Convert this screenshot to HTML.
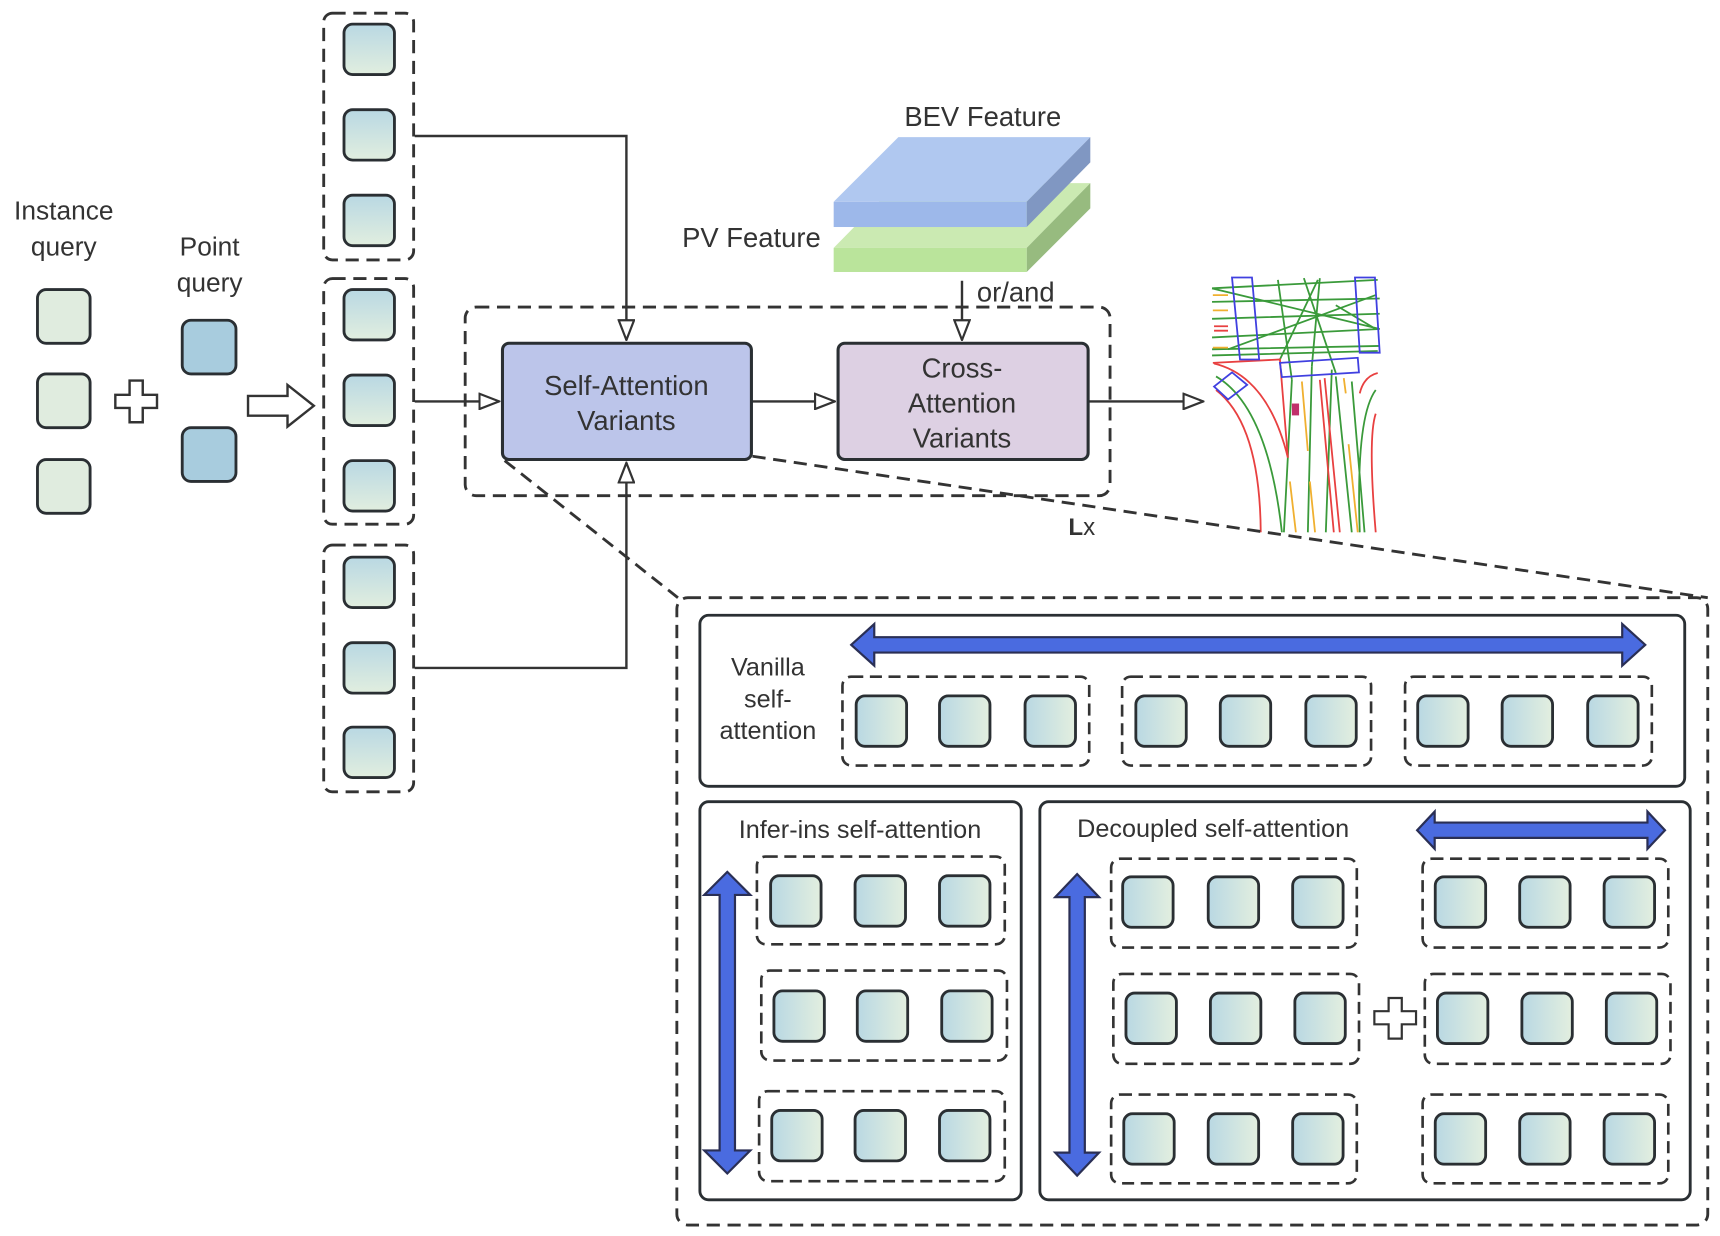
<!DOCTYPE html>
<html><head><meta charset="utf-8"><style>html,body{margin:0;padding:0;background:#fff}svg{display:block}</style></head>
<body>
<svg width="1720" height="1236" viewBox="0 0 1568 1127" xmlns="http://www.w3.org/2000/svg" font-family="'Liberation Sans', 'DejaVu Sans', sans-serif" fill="#222">
<defs>
<linearGradient id="gv" x1="0" y1="0" x2="0" y2="1"><stop offset="0" stop-color="#b9d8e3"/><stop offset="1" stop-color="#e1eedf"/></linearGradient>
<linearGradient id="gh" x1="0" y1="0" x2="1" y2="0"><stop offset="0" stop-color="#b9d8e3"/><stop offset="1" stop-color="#e3efdf"/></linearGradient>
<marker id="ah" viewBox="0 0 20 16" refX="19" refY="8" markerWidth="20" markerHeight="16" markerUnits="userSpaceOnUse" orient="auto"><path d="M1,1 L19,8 L1,15 Z" fill="#fff" stroke="#333" stroke-width="2"/></marker>
<symbol id="sv" viewBox="0 0 49 49"><rect x="1.5" y="1.5" width="46" height="46" rx="8" fill="url(#gv)" stroke="#2a2f33" stroke-width="2.6"/></symbol>
<symbol id="sh" viewBox="0 0 49 49"><rect x="1.5" y="1.5" width="46" height="46" rx="8" fill="url(#gh)" stroke="#2a2f33" stroke-width="2.6"/></symbol>
</defs>

<!-- left queries -->
<g font-size="24" text-anchor="middle" fill="#333">
<text x="58" y="200">Instance</text><text x="58" y="233">query</text>
<text x="191" y="233">Point</text><text x="191" y="266">query</text>
</g>
<g stroke="#2a2f33" stroke-width="2.6">
<rect x="34" y="264" width="48" height="49" rx="8" fill="#e0ecdf"/>
<rect x="34" y="341" width="48" height="49" rx="8" fill="#e0ecdf"/>
<rect x="34" y="419" width="48" height="49" rx="8" fill="#e0ecdf"/>
<rect x="166" y="292" width="49" height="49" rx="8" fill="#a8ccde"/>
<rect x="166" y="390" width="49" height="49" rx="8" fill="#a8ccde"/>
</g>
<path d="M118,347 h12 v13 h13 v12 h-13 v13 h-12 v-13 h-13 v-12 h13 z" fill="#fff" stroke="#333" stroke-width="2.2"/>
<path d="M226,361 h36 v-10 l24,19 l-24,19 v-10 h-36 z" fill="#fff" stroke="#333" stroke-width="2.2"/>

<!-- column groups -->
<g fill="none" stroke="#333" stroke-width="2.6" stroke-dasharray="12,7">
<rect x="295" y="12" width="82" height="225" rx="8"/>
<rect x="295" y="254" width="82" height="224" rx="8"/>
<rect x="295" y="497" width="82" height="225" rx="8"/>
</g>
<use href="#sv" x="312" y="20" width="49" height="50"/>
<use href="#sv" x="312" y="98" width="49" height="50"/>
<use href="#sv" x="312" y="176" width="49" height="50"/>
<use href="#sv" x="312" y="262" width="49" height="50"/>
<use href="#sv" x="312" y="340" width="49" height="50"/>
<use href="#sv" x="312" y="418" width="49" height="50"/>
<use href="#sv" x="312" y="506" width="49" height="50"/>
<use href="#sv" x="312" y="584" width="49" height="50"/>
<use href="#sv" x="312" y="661" width="49" height="50"/>

<!-- connectors -->
<g fill="none" stroke="#333" stroke-width="2.2">
<path d="M378,124 H571 V310" marker-end="url(#ah)"/>
<path d="M378,366 H455" marker-end="url(#ah)"/>
<path d="M378,609 H571 V422" marker-end="url(#ah)"/>
<path d="M686,366 H761" marker-end="url(#ah)"/>
<path d="M877,256 V310" marker-end="url(#ah)"/>
<path d="M993,366 H1097" marker-end="url(#ah)"/>
</g>
<rect x="424" y="280" width="588" height="172" rx="10" fill="none" stroke="#333" stroke-width="2.6" stroke-dasharray="12,7"/>
<rect x="458" y="313" width="227" height="106" rx="6" fill="#bcc5ea" stroke="#2a2f33" stroke-width="2.8"/>
<rect x="764" y="313" width="228" height="106" rx="6" fill="#ddd0e3" stroke="#2a2f33" stroke-width="2.8"/>
<g font-size="25" text-anchor="middle" fill="#333">
<text x="571" y="360">Self-Attention</text><text x="571" y="392">Variants</text>
<text x="877" y="344">Cross-</text><text x="877" y="376">Attention</text><text x="877" y="408">Variants</text>
<text x="926" y="275">or/and</text>
<text x="896" y="115">BEV Feature</text>
<text x="685" y="225">PV Feature</text>
</g>
<text x="974" y="488" font-size="22" fill="#333"><tspan font-weight="bold">L</tspan>x</text>

<!-- feature slabs -->
<polygon points="760,226 818,167 994,167 936,226" fill="#cbeab2"/>
<polygon points="936,226 994,167 994,190 936,248" fill="#97bb7f"/>
<rect x="760" y="226" width="176" height="22" fill="#bae49b"/>
<polygon points="760,184 819,125 994,125 936,184" fill="#b0c8f0"/>
<polygon points="936,184 994,125 994,148 936,207" fill="#8097c2"/>
<rect x="760" y="184" width="176" height="23" fill="#9db8ea"/>

<!-- map -->
<g transform="translate(1105,253) scale(0.364,0.309) translate(-290,-88)" fill="none" stroke-width="1.8">
<g stroke="#3a9a3a" vector-effect="non-scaling-stroke">
<path vector-effect="non-scaling-stroke" d="M290,120 L705,95 M290,160 L710,150 M290,210 L710,195 M290,265 L710,240 M290,300 L710,290 M290,318 L705,305"/>
<path vector-effect="non-scaling-stroke" d="M455,95 L490,390 M290,120 L710,240 M330,300 L700,140 M520,90 L600,370 M555,95 L460,330 M600,170 L700,240 M560,90 L540,350"/>
<path vector-effect="non-scaling-stroke" d="M490,390 L470,840 M540,350 L530,840 M590,360 L575,840 M600,380 L640,840 M640,395 L672,840 M700,420 Q650,500 660,840 M300,380 Q430,470 465,840"/>
</g>
<g stroke="#e84040">
<path vector-effect="non-scaling-stroke" d="M292,340 L460,330 L480,620 M295,342 Q430,380 480,620 M300,420 Q410,520 412,840 M560,390 L595,840 M572,385 L610,840 M700,490 Q680,560 700,840 M660,430 Q670,380 705,370 M295,232 H330 M295,245 H330"/>
</g>
<g stroke="#f0b030">
<path vector-effect="non-scaling-stroke" d="M292,140 H330 M292,185 H330 M292,295 H330 M515,395 L530,600 M485,690 L500,840 M535,690 L548,840 M620,385 L625,430 M632,580 L655,840"/>
</g>
<g stroke="#4040e0">
<path vector-effect="non-scaling-stroke" d="M340,88 L390,88 L408,330 L360,330 Z M648,88 L698,88 L710,310 L660,310 Z M460,340 L655,325 L658,368 L465,382 Z M295,410 L340,368 L378,405 L330,448 Z"/>
</g>
<rect x="490" y="460" width="18" height="35" fill="#c0306a" stroke="none"/>
</g>

<!-- zoom lines -->
<g fill="none" stroke="#333" stroke-width="2.6" stroke-dasharray="12,7">
<path d="M460,420 L618,545"/>
<path d="M686,416 L1557,545"/>
<rect x="617" y="545" width="940" height="572" rx="10"/>
</g>

<!-- panels -->
<g fill="#fff" stroke="#2a2f33" stroke-width="2.6">
<rect x="638" y="561" width="898" height="156" rx="8"/>
<rect x="638" y="731" width="293" height="363" rx="8"/>
<rect x="948" y="731" width="593" height="363" rx="8"/>
</g>
<g font-size="23" text-anchor="middle" fill="#333">
<text x="700" y="616">Vanilla</text><text x="700" y="645">self-</text><text x="700" y="674">attention</text>
<text x="784" y="764">Infer-ins self-attention</text>
<text x="1106" y="763">Decoupled self-attention</text>
</g>

<!-- blue arrows -->
<g fill="#4a6be0" stroke="#2a2f55" stroke-width="2">
<path d="M776,588 L797,569 V581 H1479 V569 L1500,588 L1479,607 V595 H797 V607 Z"/>
<path d="M1292,757 L1308,740 V750 H1502 V740 L1518,757 L1502,774 V764 H1308 V774 Z"/>
<path d="M663,795 L684,816 H670 V1049 H684 L663,1070 L642,1049 H656 V816 H642 Z"/>
<path d="M982,797 L1002,818 H989 V1051 H1002 L982,1072 L962,1051 H975 V818 H962 Z"/>
</g>

<!-- dashed groups lower -->
<g fill="none" stroke="#333" stroke-width="2.4" stroke-dasharray="11,6">
<rect x="768" y="617" width="225" height="81" rx="8"/>
<rect x="1023" y="617" width="227" height="81" rx="8"/>
<rect x="1281" y="617" width="225" height="81" rx="8"/>
<rect x="690" y="781" width="226" height="80" rx="8"/>
<rect x="694" y="885" width="224" height="82" rx="8"/>
<rect x="692" y="995" width="224" height="82" rx="8"/>
<rect x="1013" y="783" width="224" height="81" rx="8"/>
<rect x="1015" y="888" width="224" height="82" rx="8"/>
<rect x="1013" y="998" width="224" height="81" rx="8"/>
<rect x="1297" y="783" width="224" height="81" rx="8"/>
<rect x="1299" y="888" width="224" height="82" rx="8"/>
<rect x="1297" y="998" width="224" height="81" rx="8"/>
</g>
<path d="M1266,910 h12 v12 h13 v12 h-13 v13 h-12 v-13 h-13 v-12 h13 z" fill="#fff" stroke="#333" stroke-width="2"/>

<g>
<use href="#sh" x="779" y="633" width="49" height="49"/><use href="#sh" x="855" y="633" width="49" height="49"/><use href="#sh" x="933" y="633" width="49" height="49"/>
<use href="#sh" x="1034" y="633" width="49" height="49"/><use href="#sh" x="1111" y="633" width="49" height="49"/><use href="#sh" x="1189" y="633" width="49" height="49"/>
<use href="#sh" x="1291" y="633" width="49" height="49"/><use href="#sh" x="1368" y="633" width="49" height="49"/><use href="#sh" x="1446" y="633" width="49" height="49"/>

<use href="#sh" x="701" y="797" width="49" height="49"/><use href="#sh" x="778" y="797" width="49" height="49"/><use href="#sh" x="855" y="797" width="49" height="49"/>
<use href="#sh" x="704" y="902" width="49" height="49"/><use href="#sh" x="780" y="902" width="49" height="49"/><use href="#sh" x="857" y="902" width="49" height="49"/>
<use href="#sh" x="702" y="1011" width="49" height="49"/><use href="#sh" x="778" y="1011" width="49" height="49"/><use href="#sh" x="855" y="1011" width="49" height="49"/>

<use href="#sh" x="1022" y="798" width="49" height="49"/><use href="#sh" x="1100" y="798" width="49" height="49"/><use href="#sh" x="1177" y="798" width="49" height="49"/>
<use href="#sh" x="1025" y="904" width="49" height="49"/><use href="#sh" x="1102" y="904" width="49" height="49"/><use href="#sh" x="1179" y="904" width="49" height="49"/>
<use href="#sh" x="1023" y="1014" width="49" height="49"/><use href="#sh" x="1100" y="1014" width="49" height="49"/><use href="#sh" x="1177" y="1014" width="49" height="49"/>

<use href="#sh" x="1307" y="798" width="49" height="49"/><use href="#sh" x="1384" y="798" width="49" height="49"/><use href="#sh" x="1461" y="798" width="49" height="49"/>
<use href="#sh" x="1309" y="904" width="49" height="49"/><use href="#sh" x="1386" y="904" width="49" height="49"/><use href="#sh" x="1463" y="904" width="49" height="49"/>
<use href="#sh" x="1307" y="1014" width="49" height="49"/><use href="#sh" x="1384" y="1014" width="49" height="49"/><use href="#sh" x="1461" y="1014" width="49" height="49"/>
</g>
</svg>
</body></html>
